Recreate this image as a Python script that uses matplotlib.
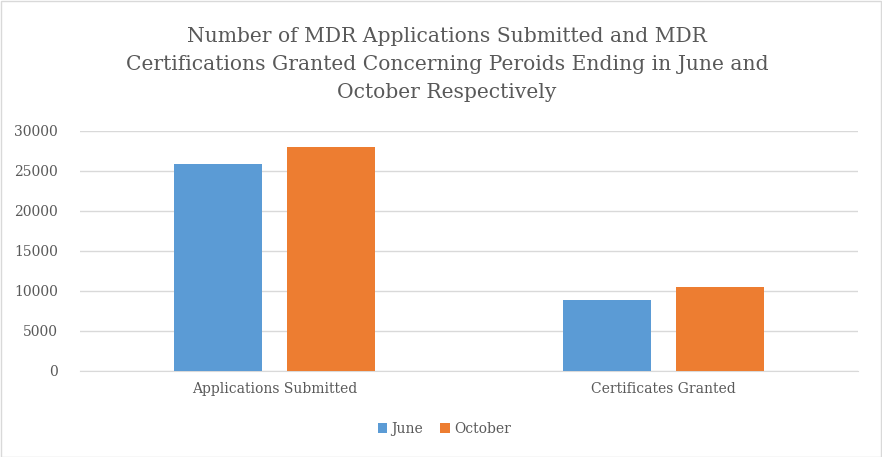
import numpy as np
import matplotlib.pyplot as plt

# data
categories = ["Applications Submitted", "Certificates Granted"]
june = [25900, 8900]
october = [28000, 10500]
series_names = ["June", "October"]
yticks = [0, 5000, 10000, 15000, 20000, 25000, 30000]

title = ("Number of MDR Applications Submitted and MDR\n"
         "Certifications Granted Concerning Peroids Ending in June and\n"
         "October Respectively")

blue = "#5b9bd5"
orange = "#ed7d31"
text_col = "#595959"
grid_col = "#d9d9d9"

plt.rcParams["font.family"] = ["DejaVu Serif"]

fig = plt.figure(figsize=(8.82, 4.57), dpi=100)
ax = fig.add_axes([80 / 882, 1 - 371 / 457, 778 / 882, 240 / 457])

x = np.arange(len(categories))
w = 0.226
off = 0.146
ax.bar(x - off, june, w, color=blue, label=series_names[0], zorder=3)
ax.bar(x + off, october, w, color=orange, label=series_names[1], zorder=3)

ax.set_xlim(-0.5, 1.5)
ax.set_ylim(0, 30000)
ax.set_yticks(yticks)
ax.set_xticks(x)
ax.set_xticklabels(categories)
ax.tick_params(axis="both", length=0, colors=text_col, labelsize=10)
ax.tick_params(axis="x", pad=8)
ax.tick_params(axis="y", pad=16)
ax.grid(axis="y", color=grid_col, linewidth=1, zorder=0)
for s in ["top", "right", "left"]:
    ax.spines[s].set_visible(False)
ax.spines["bottom"].set_color(grid_col)

fig.text(0.507, 1 - 65 / 457, title, ha="center", va="center",
         fontsize=14.6, color=text_col, linespacing=1.6)

ax.legend(loc="upper center", bbox_to_anchor=(0.468, -0.16), ncol=2,
          frameon=False, fontsize=10, labelcolor=text_col,
          handlelength=0.7, handleheight=0.7, handletextpad=0.3,
          columnspacing=1.2)

fig.patches.append(plt.Rectangle((0.5 / 882, 0.5 / 457), 1 - 1.5 / 882, 1 - 1.5 / 457,
                                 transform=fig.transFigure, fill=False,
                                 edgecolor=grid_col, linewidth=1))

fig.savefig("out.png", dpi=100)
